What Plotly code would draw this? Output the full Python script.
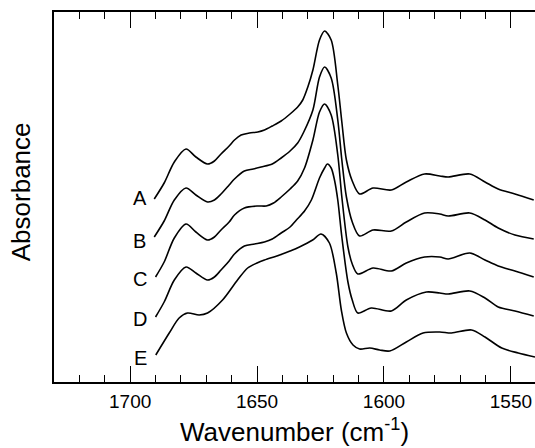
import plotly.graph_objects as go

# Wavenumber (cm^-1) and absorbance (arbitrary units, offset spectra)
wn_A = [1690.5, 1686.6, 1682.6, 1678.0, 1674.1, 1669.5, 1666.8, 1664.2, 1661.0, 1658.9,
        1656.3, 1653.0, 1649.7, 1647.1, 1644.0, 1640.5, 1637.0, 1634.0, 1632.0, 1630.0,
        1628.0, 1625.4, 1623.4, 1620.8, 1618.2, 1616.6, 1614.8, 1612.5, 1609.6, 1604.3,
        1597.1, 1591.2, 1584.0, 1578.0, 1574.7, 1566.2, 1560.2, 1555.0, 1548.4, 1541.0]
abs_A = [1.83, 1.99, 2.20, 2.33, 2.25, 2.18, 2.21, 2.28, 2.36, 2.42,
         2.47, 2.49, 2.50, 2.52, 2.56, 2.61, 2.68, 2.75, 2.82, 2.95,
         3.12, 3.42, 3.51, 3.42, 2.97, 2.60, 2.22, 2.01, 1.88, 1.94,
         1.92, 2.00, 2.08, 2.06, 2.05, 2.08, 2.00, 1.93, 1.88, 1.82]

wn_B = [1690.5, 1686.6, 1682.6, 1678.0, 1674.1, 1669.5, 1666.8, 1664.2, 1661.0, 1658.9,
        1655.0, 1651.5, 1648.4, 1644.0, 1640.5, 1637.0, 1634.0, 1631.6, 1628.0, 1625.4,
        1623.4, 1620.8, 1618.2, 1616.6, 1614.8, 1612.5, 1609.6, 1604.3, 1597.1, 1591.2,
        1584.0, 1578.0, 1574.7, 1566.2, 1560.2, 1555.0, 1548.4, 1541.0]
abs_B = [1.45, 1.61, 1.82, 1.94, 1.87, 1.80, 1.82, 1.88, 1.97, 2.03,
         2.11, 2.13, 2.15, 2.18, 2.24, 2.31, 2.39, 2.50, 2.72, 3.05,
         3.15, 3.04, 2.62, 2.22, 1.85, 1.60, 1.46, 1.52, 1.51, 1.60,
         1.69, 1.68, 1.66, 1.69, 1.62, 1.54, 1.47, 1.43]

wn_C = [1690.0, 1686.6, 1682.6, 1678.0, 1674.1, 1669.5, 1666.8, 1664.2, 1661.0, 1658.9,
        1655.0, 1649.7, 1646.4, 1643.5, 1640.5, 1637.0, 1634.0, 1631.3, 1628.0, 1625.4,
        1623.4, 1620.8, 1618.2, 1616.6, 1614.2, 1612.5, 1610.3, 1604.3, 1597.1, 1591.2,
        1584.0, 1578.0, 1574.7, 1566.2, 1560.2, 1555.0, 1548.4, 1541.0]
abs_C = [1.05, 1.20, 1.44, 1.58, 1.50, 1.42, 1.45, 1.52, 1.60, 1.67,
         1.74, 1.76, 1.76, 1.79, 1.85, 1.93, 2.01, 2.14, 2.42, 2.70,
         2.78, 2.67, 2.27, 1.85, 1.35, 1.18, 1.08, 1.14, 1.11, 1.19,
         1.25, 1.25, 1.23, 1.29, 1.22, 1.16, 1.11, 1.05]

wn_D = [1690.0, 1686.6, 1682.6, 1678.0, 1674.1, 1669.5, 1666.8, 1664.2, 1661.0, 1658.9,
        1655.0, 1651.0, 1647.1, 1644.0, 1640.5, 1637.0, 1634.5, 1631.3, 1628.6, 1625.4,
        1623.4, 1622.3, 1620.8, 1619.5, 1618.2, 1616.6, 1614.2, 1612.5, 1610.3, 1605.0,
        1597.1, 1591.2, 1583.3, 1578.0, 1574.7, 1566.2, 1560.2, 1555.0, 1548.4, 1541.0]
abs_D = [0.65, 0.80, 1.02, 1.15, 1.09, 1.02, 1.05, 1.12, 1.21, 1.28,
         1.36, 1.38, 1.40, 1.43, 1.49, 1.55, 1.62, 1.71, 1.82, 2.04,
         2.14, 2.18, 2.14, 2.02, 1.82, 1.45, 1.00, 0.82, 0.69, 0.74,
         0.71, 0.82, 0.90, 0.89, 0.88, 0.91, 0.84, 0.75, 0.71, 0.66]

wn_E = [1689.9, 1684.6, 1680.7, 1677.4, 1672.8, 1669.5, 1663.6, 1657.7, 1653.7, 1650.0,
        1647.1, 1641.1, 1637.0, 1633.3, 1628.1, 1624.8, 1621.5, 1618.8, 1616.8, 1614.8,
        1612.2, 1609.6, 1605.6, 1601.7, 1597.7, 1591.2, 1584.6, 1578.0, 1573.4, 1565.5,
        1560.2, 1553.6, 1547.1, 1540.5]
abs_E = [0.27, 0.49, 0.64, 0.69, 0.67, 0.69, 0.82, 1.02, 1.14, 1.19,
         1.22, 1.27, 1.31, 1.35, 1.42, 1.48, 1.39, 1.09, 0.72, 0.49,
         0.37, 0.33, 0.34, 0.32, 0.31, 0.40, 0.49, 0.50, 0.49, 0.52,
         0.45, 0.34, 0.29, 0.25]

labels = ["A", "B", "C", "D", "E"]
label_x = [1696.3, 1696.3, 1696.0, 1696.0, 1696.0]
label_y = [1.84, 1.41, 1.03, 0.63, 0.24]

x_ticks = [1700, 1650, 1600, 1550]

series = [(wn_A, abs_A), (wn_B, abs_B), (wn_C, abs_C), (wn_D, abs_D), (wn_E, abs_E)]

FONT = "Liberation Sans, Arial, sans-serif"

fig = go.Figure()
for (xs, ys), name in zip(series, labels):
    fig.add_trace(go.Scatter(x=xs, y=ys, mode="lines", name=name,
                             line=dict(color="black", width=1.6, shape="spline", smoothing=0.85),
                             showlegend=False, hoverinfo="skip"))

for lab, lx, ly in zip(labels, label_x, label_y):
    fig.add_annotation(x=lx, y=ly, text=lab, showarrow=False,
                       font=dict(family=FONT, size=20, color="black"),
                       xanchor="center", yanchor="middle")

fig.add_annotation(xref="paper", yref="paper", x=0.499, y=-0.082, text="Wavenumber (cm<sup>-1</sup>)",
                   showarrow=False, xanchor="center", yanchor="top",
                   font=dict(family=FONT, size=26, color="black"))
fig.add_annotation(xref="paper", yref="paper", x=-0.067, y=0.515, text="Absorbance", textangle=-90,
                   showarrow=False, xanchor="center", yanchor="middle",
                   font=dict(family=FONT, size=26, color="black"))

fig.update_xaxes(range=[1730, 1540.5], tickvals=x_ticks, ticktext=[str(v) for v in x_ticks],
                 ticks="inside", ticklen=16, tickwidth=1.2, tickcolor="black",
                 minor=dict(dtick=10, tick0=1700, ticks="inside", ticklen=7, tickwidth=1.2,
                            tickcolor="black", showgrid=False),
                 showline=True, linewidth=1.8, linecolor="black", mirror="allticks",
                 showgrid=False, zeroline=False, ticklabelstandoff=1,
                 tickfont=dict(family=FONT, size=19, color="black"))
fig.update_yaxes(range=[0, 3.70], showticklabels=False, ticks="",
                 showline=True, linewidth=1.8, linecolor="black", mirror=False,
                 showgrid=False, zeroline=False)

fig.update_layout(width=535, height=448, margin=dict(l=54, r=0, t=12, b=66),
                  plot_bgcolor="white", paper_bgcolor="white")

fig.write_html("out.html")
